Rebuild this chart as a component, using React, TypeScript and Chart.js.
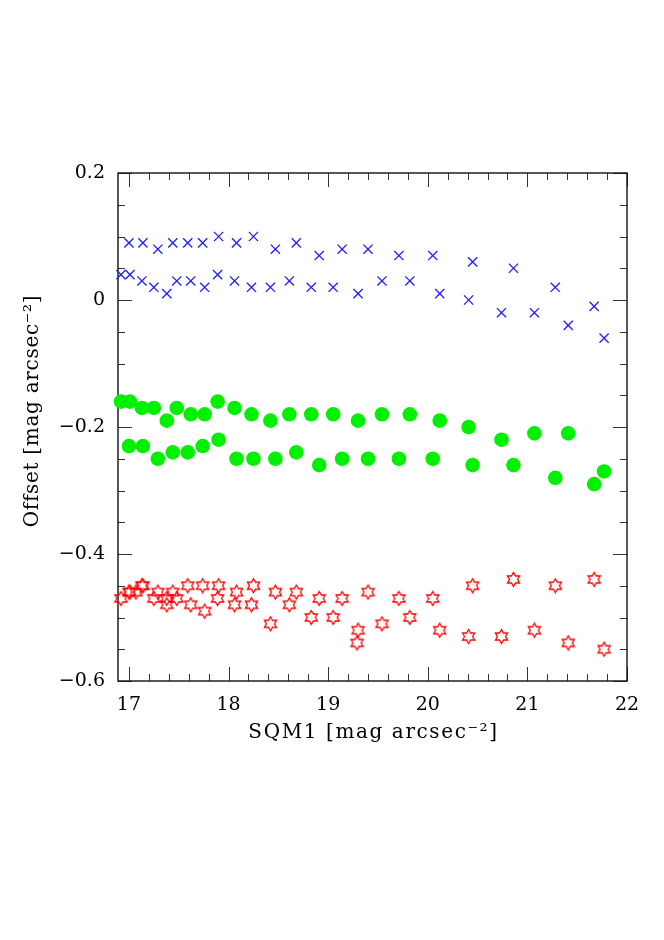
import React, { useEffect, useRef } from 'react';
import { Chart, registerables } from 'chart.js';

Chart.register(...registerables);

// Axis ticks and titles
const xTicks = [17, 18, 19, 20, 21, 22];
const yTicks = [0.2, 0, -0.2, -0.4, -0.6];
const xTitle = 'SQM1 [mag arcsec⁻²]';
const yTitle = 'Offset [mag arcsec⁻²]';
const xMin = 16.89;
const xMax = 22;
const yMin = -0.6;
const yMax = 0.2;

// SQM1 values (two sampling sets)
const xA = [17.0, 17.14, 17.29, 17.44, 17.59, 17.74, 17.9, 18.08, 18.25, 18.47, 18.68, 18.91, 19.14, 19.4, 19.71, 20.05, 20.45, 20.86, 21.28, 21.67];
const xB = [16.92, 17.01, 17.13, 17.25, 17.38, 17.48, 17.62, 17.76, 17.89, 18.06, 18.23, 18.42, 18.61, 18.83, 19.05, 19.3, 19.54, 19.82, 20.12, 20.41, 20.74, 21.07, 21.41, 21.77];

// Blue crosses
const blueA = [0.09, 0.09, 0.08, 0.09, 0.09, 0.09, 0.1, 0.09, 0.1, 0.08, 0.09, 0.07, 0.08, 0.08, 0.07, 0.07, 0.06, 0.05, 0.02, -0.01];
const blueB = [0.04, 0.04, 0.03, 0.02, 0.01, 0.03, 0.03, 0.02, 0.04, 0.03, 0.02, 0.02, 0.03, 0.02, 0.02, 0.01, 0.03, 0.03, 0.01, 0.0, -0.02, -0.02, -0.04, -0.06];

// Green circles
const greenA = [-0.23, -0.23, -0.25, -0.24, -0.24, -0.23, -0.22, -0.25, -0.25, -0.25, -0.24, -0.26, -0.25, -0.25, -0.25, -0.25, -0.26, -0.26, -0.28, -0.29];
const greenB = [-0.16, -0.16, -0.17, -0.17, -0.19, -0.17, -0.18, -0.18, -0.16, -0.17, -0.18, -0.19, -0.18, -0.18, -0.18, -0.19, -0.18, -0.18, -0.19, -0.2, -0.22, -0.21, -0.21, -0.27];

// Red stars
const redA = [-0.46, -0.45, -0.46, -0.46, -0.45, -0.45, -0.45, -0.46, -0.45, -0.46, -0.46, -0.47, -0.47, -0.46, -0.47, -0.47, -0.45, -0.44, -0.45, -0.44];
const redB = [-0.47, -0.46, -0.45, -0.47, -0.47, -0.47, -0.48, -0.49, -0.47, -0.48, -0.48, -0.51, -0.48, -0.5, -0.5, -0.52, -0.51, -0.5, -0.52, -0.53, -0.53, -0.52, -0.54, -0.55];
const redExtraX = [17.07, 17.38, 19.29];
const redExtraY = [-0.46, -0.48, -0.54];

const FONT = "'DejaVu Serif', serif";

function pts(xs: number[], ys: number[]) {
  return xs.map((x, i) => ({ x, y: ys[i] }));
}

function makeStar(R: number, color: string, lw: number): HTMLCanvasElement {
  const size = Math.ceil(2 * R + lw * 2 + 2);
  const c = document.createElement('canvas');
  c.width = size;
  c.height = size;
  const ctx = c.getContext('2d')!;
  ctx.translate(size / 2, size / 2);
  const r = R / Math.sqrt(3);
  ctx.beginPath();
  for (let i = 0; i < 12; i++) {
    const a = -Math.PI / 2 + (i * Math.PI) / 6;
    const rr = i % 2 === 0 ? R : r;
    const px = Math.cos(a) * rr;
    const py = Math.sin(a) * rr;
    if (i === 0) ctx.moveTo(px, py);
    else ctx.lineTo(px, py);
  }
  ctx.closePath();
  ctx.strokeStyle = color;
  ctx.lineWidth = lw;
  ctx.stroke();
  return c;
}

const framePlugin = {
  id: 'frameTicks',
  beforeDatasetsDraw(chart: any) {
    const { ctx, chartArea: a, scales } = chart;
    const x = scales.x;
    const y = scales.y;
    ctx.save();
    ctx.strokeStyle = '#333';
    ctx.lineWidth = 1;
    ctx.beginPath();
    const kx0 = Math.ceil(xMin / 0.2 - 1e-6);
    const kx1 = Math.floor(xMax / 0.2 + 1e-6);
    for (let k = kx0; k <= kx1; k++) {
      const v = k * 0.2;
      const major = Math.abs(v - Math.round(v)) < 1e-6;
      const L = major ? 14 : 7;
      const px = Math.round(x.getPixelForValue(v)) + 0.5;
      ctx.moveTo(px, a.bottom);
      ctx.lineTo(px, a.bottom - L);
      ctx.moveTo(px, a.top);
      ctx.lineTo(px, a.top + L);
    }
    const ky0 = Math.ceil(yMin / 0.05 - 1e-6);
    const ky1 = Math.floor(yMax / 0.05 + 1e-6);
    for (let k = ky0; k <= ky1; k++) {
      const v = k * 0.05;
      const major = k % 4 === 0;
      const L = major ? 14 : 7;
      const py = Math.round(y.getPixelForValue(v)) + 0.5;
      ctx.moveTo(a.left, py);
      ctx.lineTo(a.left + L, py);
      ctx.moveTo(a.right, py);
      ctx.lineTo(a.right - L, py);
    }
    ctx.stroke();
    ctx.strokeStyle = '#111';
    ctx.lineWidth = 1.4;
    ctx.strokeRect(a.left, a.top, a.right - a.left, a.bottom - a.top);
    ctx.restore();
  },
  afterDraw(chart: any) {
    const { ctx, chartArea: a } = chart;
    ctx.save();
    ctx.fillStyle = '#000';
    ctx.textAlign = 'center';
    ctx.textBaseline = 'middle';
    ctx.font = `20px ${FONT}`;
    (ctx as any).letterSpacing = '1.6px';
    ctx.fillText(xTitle, (a.left + a.right) / 2 + 1, a.bottom + 52);
    (ctx as any).letterSpacing = '0.7px';
    ctx.translate(33, (a.top + a.bottom) / 2 - 16);
    ctx.rotate(-Math.PI / 2);
    ctx.fillText(yTitle, 0, 0);
    ctx.restore();
  },
};

export default function App() {
  const ref = useRef<HTMLCanvasElement | null>(null);

  useEffect(() => {
    if (!ref.current) return;
    const star = makeStar(7, '#ff0000', 1.3);
    const blue = '#1e1eff';
    const green = '#00f000';
    const common = { showLine: false, clip: false as any };
    const chart = new Chart(ref.current, {
      type: 'scatter',
      data: {
        datasets: [
          { ...common, data: pts(xA, blueA), pointStyle: 'crossRot', pointRadius: 6.5, borderColor: blue, borderWidth: 1.3, backgroundColor: blue },
          { ...common, data: pts(xB, blueB), pointStyle: 'crossRot', pointRadius: 6.5, borderColor: blue, borderWidth: 1.3, backgroundColor: blue },
          { ...common, data: pts(xA, greenA), pointStyle: 'circle', pointRadius: 7.3, borderWidth: 0, borderColor: green, backgroundColor: green },
          { ...common, data: pts(xB, greenB), pointStyle: 'circle', pointRadius: 7.3, borderWidth: 0, borderColor: green, backgroundColor: green },
          { ...common, data: pts(xA, redA), pointStyle: star as any, pointRadius: 7 },
          { ...common, data: pts(xB, redB), pointStyle: star as any, pointRadius: 7 },
          { ...common, data: pts(redExtraX, redExtraY), pointStyle: star as any, pointRadius: 7 },
        ] as any,
      },
      options: {
        responsive: false,
        animation: false,
        events: [],
        layout: { padding: { left: 0, right: 37, top: 173, bottom: 179 } },
        plugins: { legend: { display: false }, tooltip: { enabled: false }, title: { display: false } },
        scales: {
          x: {
            type: 'linear',
            min: xMin,
            max: xMax,
            grid: { display: false, drawTicks: false, tickLength: 0 },
            border: { display: false },
            afterBuildTicks: (s: any) => {
              s.ticks = xTicks.map((v) => ({ value: v }));
            },
            afterFit: (s: any) => {
              s.height = 80;
            },
            ticks: {
              autoSkip: false,
              maxRotation: 0,
              padding: 13,
              color: '#000',
              font: { family: FONT, size: 19 },
              callback: (v: any) => String(v),
            },
            title: { display: false },
          },
          y: {
            type: 'linear',
            min: yMin,
            max: yMax,
            grid: { display: false, drawTicks: false, tickLength: 0 },
            border: { display: false },
            afterBuildTicks: (s: any) => {
              s.ticks = yTicks.map((v) => ({ value: v }));
            },
            afterFit: (s: any) => {
              s.width = 118;
            },
            ticks: {
              autoSkip: false,
              padding: 13,
              color: '#000',
              font: { family: FONT, size: 19 },
              callback: (v: any) => {
                const n = Number(v);
                if (Math.abs(n) < 1e-9) return '0';
                return (n < 0 ? '−' : '') + Math.abs(n).toFixed(1);
              },
            },
            title: { display: false },
          },
        },
      },
      plugins: [framePlugin],
    });
    return () => chart.destroy();
  }, []);

  return (
    <div style={{ position: 'absolute', left: 0, top: 0, width: 664, height: 940, background: '#fff' }}>
      <canvas ref={ref} width={664} height={940} style={{ width: 664, height: 940, display: 'block' }} />
    </div>
  );
}
